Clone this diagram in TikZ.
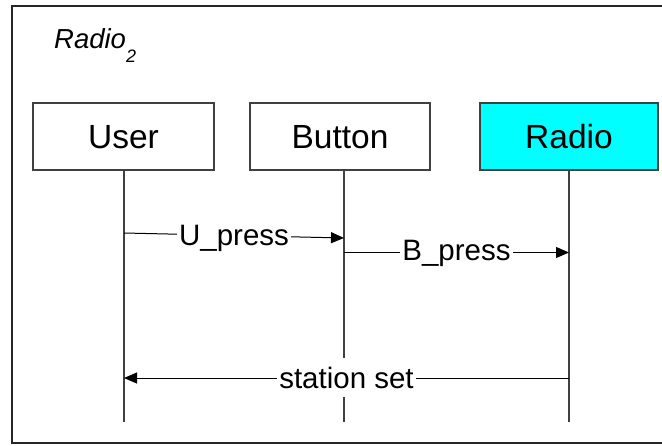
\documentclass[tikz,border=0pt]{standalone}
\usepackage{fontspec}
\setmainfont{Liberation Sans}
\usetikzlibrary{arrows.meta}
\definecolor{radiofill}{RGB}{0,255,255}

\tikzset{
  frameline/.style={line width=1.5pt, draw=black!85},
  objbox/.style={draw=black!75, line width=1.2pt, rectangle, inner sep=0pt,
    minimum height=67pt, text height=24pt, text depth=0pt,
    font=\fontsize{33.5}{40}\selectfont},
  lifeline/.style={draw=black!75, line width=1.2pt},
  msg/.style={draw=black, line width=1pt, -{Triangle[length=13pt,width=11pt]}},
  msglabel/.style={midway, anchor=base, fill=white, inner xsep=2pt, inner ysep=9pt,
    font=\fontsize{29.5}{36}\selectfont}
}

\begin{document}
\begin{tikzpicture}[x=1pt, y=-1pt]
  \useasboundingbox (0,0) rectangle (662,445);

  % diagram frame, open towards the right edge
  \draw[frameline] (662,6) -- (12,6) -- (12,443) -- (662,443);

  % title
  \node[anchor=base west, inner sep=0pt] (title) at (54,48)
    {\fontsize{27.5}{32}\selectfont\itshape Radio\raisebox{-14pt}{\fontsize{18}{20}\selectfont 2}};

  % participants
  \node[objbox, minimum width=181pt] (user)   at (123.5,136.5) {User};
  \node[objbox, minimum width=180pt] (button) at (340,136.5)   {Button};
  \node[objbox, minimum width=178pt, fill=radiofill] (radio) at (569,136.5) {Radio};

  % lifeline ends
  \coordinate (uEnd) at (124,422);
  \coordinate (bEnd) at (344,422);
  \coordinate (rEnd) at (569,422);

  \draw[lifeline] (user.south -| uEnd) -- (uEnd);
  \draw[lifeline] (button.south -| bEnd) -- (bEnd);
  \draw[lifeline] (radio.south -| rEnd) -- (rEnd);

  % message end points on the lifelines
  \coordinate (u1) at (124,233);
  \coordinate (b1) at (344,238);
  \coordinate (b2) at (344,252.5);
  \coordinate (r2) at (569,252.5);
  \coordinate (r3) at (569,378);
  \coordinate (u3) at (124,378);

  % messages
  \draw[msg] (u1) -- node[msglabel, yshift=-9.5pt] {U\_press} (b1);
  \draw[msg] (b2) -- node[msglabel, yshift=-8pt] {B\_press} (r2);
  \draw[msg] (r3) -- node[msglabel, yshift=-10pt] {station set} (u3);
\end{tikzpicture}
\end{document}
